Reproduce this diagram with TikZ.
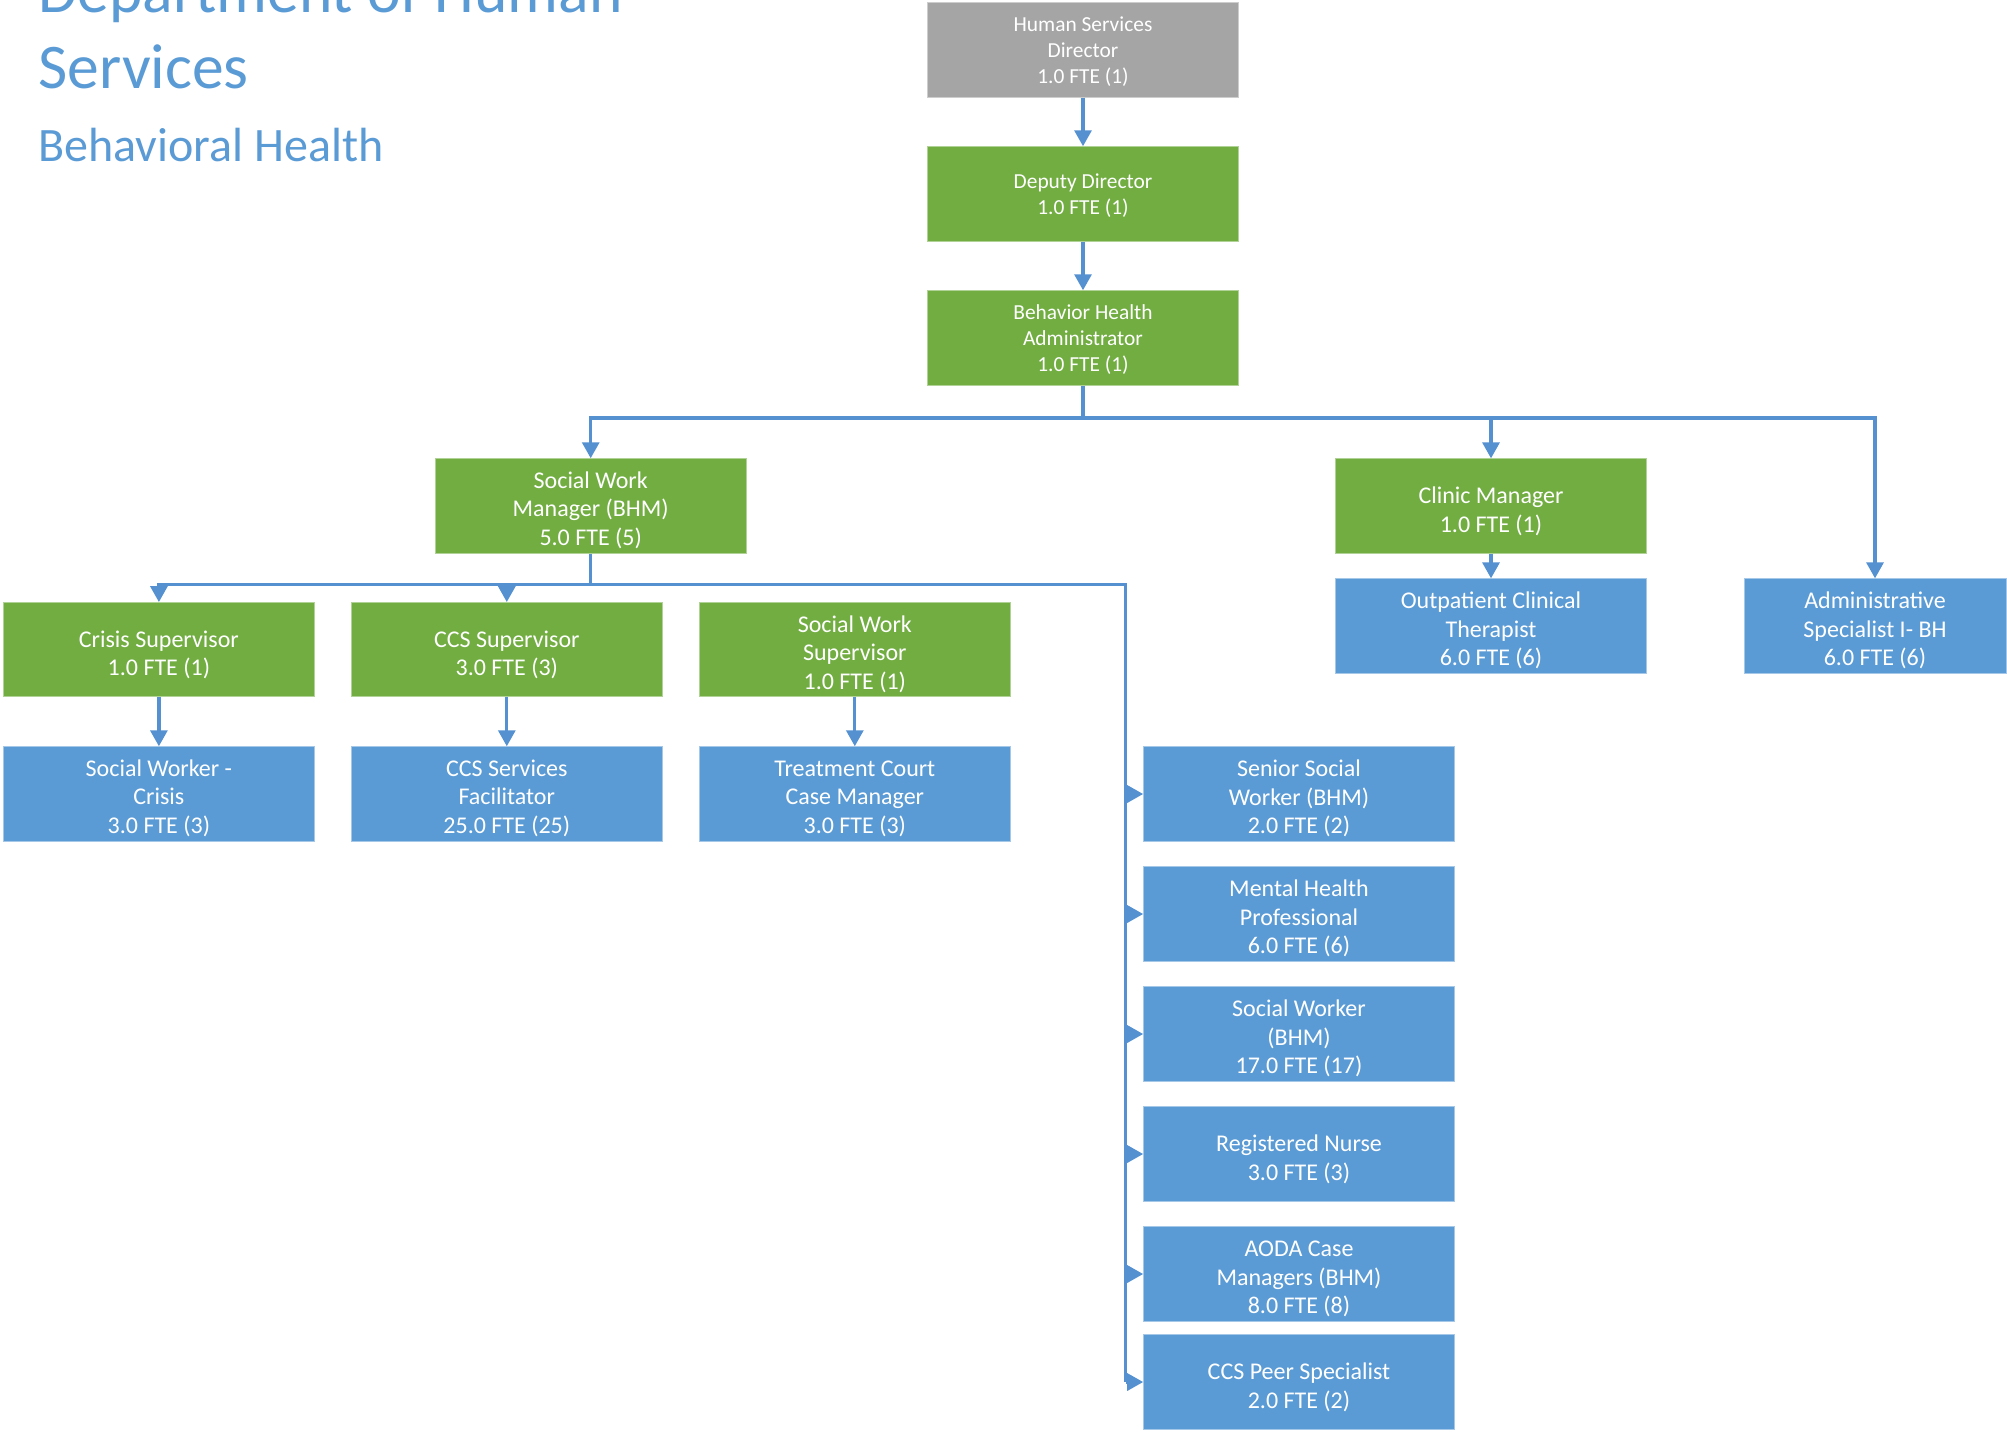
\documentclass[tikz,border=0pt]{standalone}
\usepackage{fontspec}
\setmainfont{Carlito}
\usetikzlibrary{arrows.meta}
\definecolor{boxgray}{HTML}{A5A5A5}
\definecolor{boxgreen}{HTML}{72AD42}
\definecolor{boxblue}{HTML}{5B9BD5}
\definecolor{linkblue}{HTML}{5591D0}
\definecolor{titleblue}{HTML}{5B9BD5}
\begin{document}
\begin{tikzpicture}[x=0.5pt,y=-0.5pt,
  box/.style={rectangle, inner sep=0pt, minimum width=155.3pt, minimum height=47.15pt,
    align=center, text=white, line width=0.5pt, text depth=0pt},
  % the text box is measured from the last baseline, so its height places the lines
  topbox/.style={box, font=\fontsize{10.7}{13}\selectfont, text height=33.2pt},
  toptwo/.style={text height=20.4pt},
  lowbox/.style={box, font=\fontsize{12}{14.2}\selectfont, text height=39.4pt},
  lowtwo/.style={text height=26.2pt},
  gray box/.style={fill=boxgray, draw=boxgray!55!white},
  green box/.style={fill=boxgreen, draw=boxgreen!55!white},
  blue box/.style={fill=boxblue, draw=boxblue!55!white},
  link/.style={draw=linkblue, line width=1.6pt},
  arr/.style={link, -{Triangle[length=8pt,width=8.5pt]}},
  title/.style={anchor=base west, inner sep=0pt, text=titleblue}]
\useasboundingbox (0,0) rectangle (2007,1432);

% headings
\node[title, font=\fontsize{31.8}{38}\selectfont] (t1) at (38,12) {Department of Human};
\node[title, font=\fontsize{31.8}{38}\selectfont] (t2) at (38,88) {Services};
\node[title, font=\fontsize{24}{28}\selectfont] (t3) at (38,161) {Behavioral Health};

% top of the chain
\node[topbox, gray box]  (hsd) at (1083,49.9)  {Human Services\\Director\\1.0 FTE (1)};
\node[topbox, toptwo, green box] (dd)  at (1083,193.9) {Deputy Director\\1.0 FTE (1)};
\node[topbox, green box] (bha) at (1083,337.9) {Behavior Health\\Administrator\\1.0 FTE (1)};

% managers
\node[lowbox, green box] (swm)    at (590.7,505.9) {Social Work\\Manager (BHM)\\5.0 FTE (5)};
\node[lowbox, lowtwo, green box] (clinic) at (1491,506)    {Clinic Manager\\1.0 FTE (1)};
\node[lowbox, blue box]  (outpat) at (1491,626)    {Outpatient Clinical\\Therapist\\6.0 FTE (6)};
\node[lowbox, blue box, minimum width=131pt] (admin) at (1875,626) {Administrative\\Specialist I- BH\\6.0 FTE (6)};

% supervisors
\node[lowbox, lowtwo, green box] (crisis) at (158.9,649.7) {Crisis Supervisor\\1.0 FTE (1)};
\node[lowbox, lowtwo, green box] (ccssup) at (506.8,649.7) {CCS Supervisor\\3.0 FTE (3)};
\node[lowbox, green box] (sws)    at (854.8,649.7) {Social Work\\Supervisor\\1.0 FTE (1)};

% staff under supervisors
\node[lowbox, blue box] (swcrisis) at (158.9,793.9) {Social Worker -\\Crisis\\3.0 FTE (3)};
\node[lowbox, blue box] (ccsfac)   at (506.8,793.9) {CCS Services\\Facilitator\\25.0 FTE (25)};
\node[lowbox, blue box] (tccm)     at (854.8,793.9) {Treatment Court\\Case Manager\\3.0 FTE (3)};

% staff reporting to the social work manager
\node[lowbox, blue box] (senior) at (1299,794)  {Senior Social\\Worker (BHM)\\2.0 FTE (2)};
\node[lowbox, blue box] (mhp)    at (1299,914)  {Mental Health\\Professional\\6.0 FTE (6)};
\node[lowbox, blue box] (swbhm)  at (1299,1034) {Social Worker\\(BHM)\\17.0 FTE (17)};
\node[lowbox, lowtwo, blue box] (rn)     at (1299,1154) {Registered Nurse\\3.0 FTE (3)};
\node[lowbox, blue box] (aoda)   at (1299,1274) {AODA Case\\Managers (BHM)\\8.0 FTE (8)};
\node[lowbox, lowtwo, blue box] (peer)   at (1299,1382) {CCS Peer Specialist\\2.0 FTE (2)};

% bus lines
\coordinate (busA) at (0,418);
\coordinate (busB) at (0,584.3);
\coordinate (trunk) at (1125.5,584.3);

% connectors
\draw[arr] (hsd) -- (dd);
\draw[arr] (dd) -- (bha);
\draw[link] (bha.south) -- (bha.south |- busA);
\draw[arr] (bha.south |- busA) -| (swm.north);
\draw[arr] (bha.south |- busA) -| (clinic.north);
\draw[arr] (bha.south |- busA) -| (admin.north);
\draw[arr] (clinic) -- (outpat);

\draw[link] (swm.south) -- (swm.south |- busB);
\draw[arr] (swm.south |- busB) -| (crisis.north);
\draw[arr] (swm.south |- busB) -| (ccssup.north);
\draw[link] (swm.south |- busB) -- (trunk) -- (trunk |- peer.west);

\draw[arr] (crisis) -- (swcrisis);
\draw[arr] (ccssup) -- (ccsfac);
\draw[arr] (sws) -- (tccm);

\foreach \n in {senior,mhp,swbhm,rn,aoda,peer}
  \draw[arr] (trunk |- \n.west) -- (\n.west);
\end{tikzpicture}
\end{document}
